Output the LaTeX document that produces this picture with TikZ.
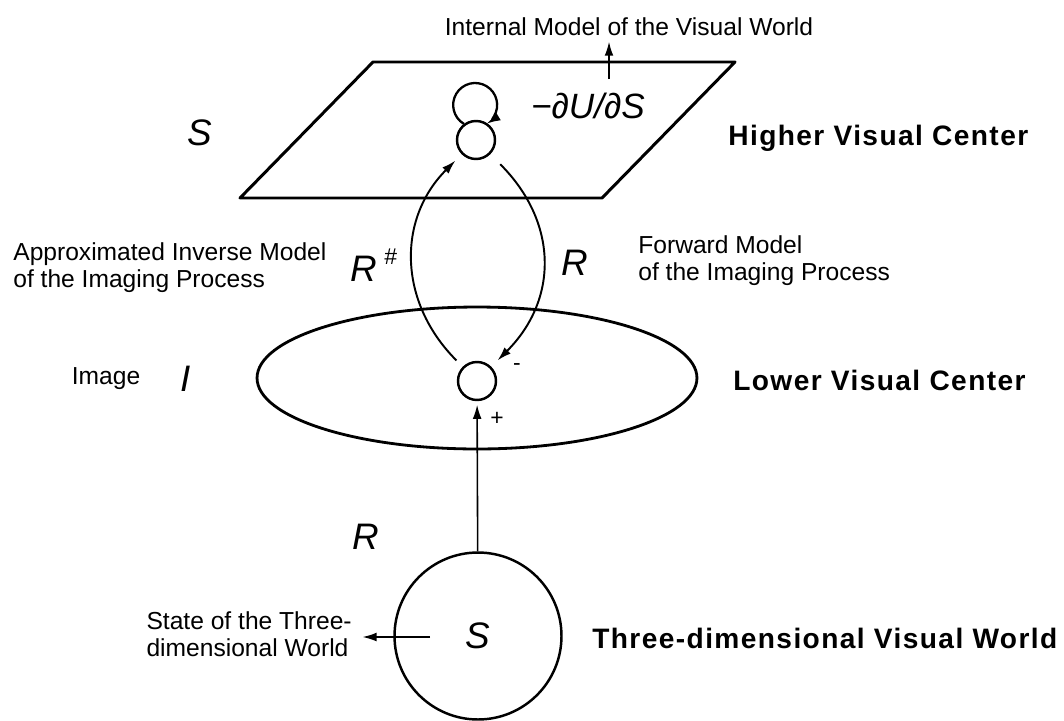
\documentclass[tikz,border=0pt]{standalone}
\usepackage{fontspec}
\setmainfont{Liberation Sans}
\newfontfamily\hollowfont[LetterSpace=5]{Liberation Sans}
\usetikzlibrary{shapes.geometric,arrows.meta}

\tikzset{
  txt/.style={font=\fontsize{14}{15.5}\selectfont, inner sep=0pt, align=left},
  centre/.style={font=\hollowfont\bfseries\fontsize{16}{18}\selectfont, inner sep=0pt},
  var/.style={font=\fontsize{21}{23}\selectfont\itshape, inner sep=0pt},
  unit/.style={draw, circle, line width=1.4pt, minimum size=0.76cm, inner sep=0pt},
  sign/.style={font=\fontsize{13}{13}\selectfont, inner sep=0pt},
}

\begin{document}
\begin{tikzpicture}[x=0.02cm, y=-0.02cm, >={Latex[length=8pt,width=5pt]}, line join=round]
  \useasboundingbox (0,0) rectangle (1064,720);

  % higher visual center
  \draw[line width=1.7pt] (373,62) -- (735,62) -- (602,198) -- (240,198) -- cycle;
  \node[unit] (top) at (476,140) {};
  \draw[->, line width=1.3pt] (top.127) arc[start angle=239, end angle=-59, radius=0.44cm];
  \node[var, font=\fontsize{20}{22}\selectfont\itshape] (grad) at (588,106) {−∂U/∂S};
  \coordinate (gradup) at (609,79);
  \node[txt] (internal) at (629,27) {Internal Model of the Visual World};
  \draw[->, line width=0.9pt, shorten >=3pt] (gradup) -- (gradup |- internal.south);
  \node[var] (splane) at (200,133) {S};
  \node[centre, anchor=west] (higher) at (728,138) {Higher Visual Center};

  % lower visual center
  \node[draw, ellipse, line width=1.6pt, minimum width=8.8cm, minimum height=2.84cm, inner sep=0pt] (lower) at (477,378) {};
  \node[unit] (bot) at (477,381) {};
  \node[sign] (minus) at (517,367) {-};
  \node[sign] (plus) at (497,419) {+};
  \node[txt] (image) at (106,379) {Image};
  \node[var] (ivar) at (186,379) {I};
  \node[centre, anchor=west] (lowerlbl) at (733,380) {Lower Visual Center};

  % imaging process
  \draw[->, line width=1.1pt, shorten <=5pt, shorten >=5pt] (bot) to[out=135, in=225, looseness=1.1] (top);
  \draw[->, line width=1.1pt, shorten <=8pt, shorten >=5pt] (top) to[out=-45, in=45, looseness=1.15] (bot);
  \node[var, anchor=west] (rsharp) at (350,265) {R\hspace{4pt}\raisebox{0.45em}{\fontsize{13}{13}\selectfont\#}};
  \node[var] (rfwd) at (575,263) {R};
  \node[txt, anchor=west] (approx) at (13,268) {Approximated Inverse Model\\of the Imaging Process};
  \node[txt, anchor=west] (forward) at (638,261) {Forward Model\\of the Imaging Process};

  % three-dimensional world
  \node[unit, var, minimum size=3.34cm] (world) at (478,636) {S};
  \node[var] (rimg) at (366,537) {R};
  \draw[->, line width=0.9pt, shorten >=2pt] (world) -- (bot);
  \node[txt, anchor=east] (state) at (352,634) {State of the Three-\\dimensional World};
  \coordinate (sin) at (430,637);
  \draw[->, line width=0.8pt, shorten >=6pt] (sin) -- (state.east |- sin);
  \node[centre, anchor=west] (worldlbl) at (592,638) {Three-dimensional Visual World};
\end{tikzpicture}
\end{document}
